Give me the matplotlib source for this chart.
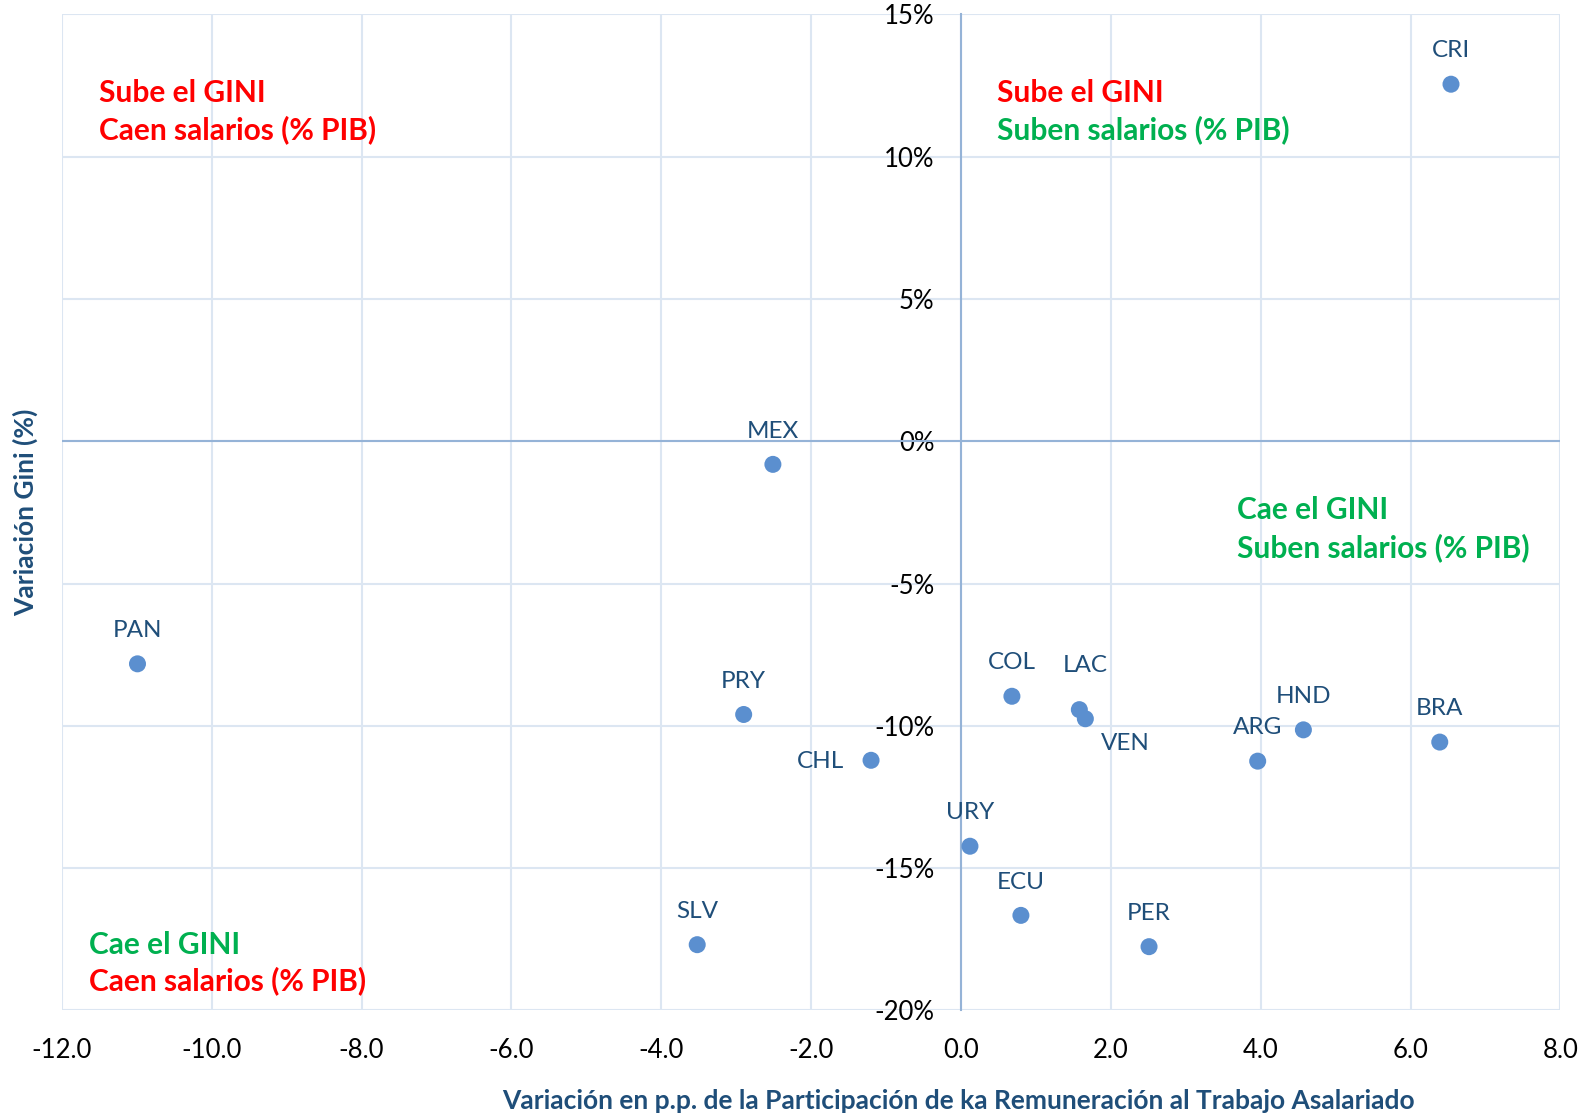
import matplotlib
matplotlib.use("Agg")
import matplotlib.pyplot as plt
from matplotlib.ticker import FuncFormatter

plt.rcParams['font.family'] = ['Lato', 'DejaVu Sans']
plt.rcParams['axes.unicode_minus'] = False

# ---- data ----
countries = ["CRI", "MEX", "PAN", "PRY", "CHL", "COL", "LAC", "VEN", "ARG",
             "HND", "BRA", "URY", "ECU", "SLV", "PER"]
x_vals = [6.54, -2.51, -10.99, -2.90, -1.20, 0.68, 1.58, 1.66, 3.96,
          4.57, 6.39, 0.12, 0.80, -3.52, 2.51]
y_vals = [12.55, -0.81, -7.82, -9.60, -11.21, -8.96, -9.43, -9.75, -11.24,
          -10.14, -10.57, -14.23, -16.66, -17.69, -17.76]
x_ticks = [-12, -10, -8, -6, -4, -2, 0, 2, 4, 6, 8]
y_ticks = [-20, -15, -10, -5, 0, 5, 10, 15]
x_title = "Variación en p.p. de la Participación de ka Remuneración al Trabajo Asalariado"
y_title = "Variación Gini (%)"

# label offsets (points)
default_off = (0, 24)
label_off = {"LAC": (4.4, 32), "VEN": (28.5, -17.5), "CHL": (-36.5, -1)}

RED = "#FF0000"
GREEN = "#00B050"
quadrants = [
    # (x, y, text, color)
    (-11.5, 12.23, "Sube el GINI", RED),
    (-11.5, 10.95, "Caen salarios (% PIB)", RED),
    (0.48, 12.23, "Sube el GINI", RED),
    (0.48, 10.95, "Suben salarios (% PIB)", GREEN),
    (3.69, -2.42, "Cae el GINI", GREEN),
    (3.69, -3.73, "Suben salarios (% PIB)", GREEN),
    (-11.64, -17.69, "Cae el GINI", GREEN),
    (-11.64, -18.97, "Caen salarios (% PIB)", RED),
]

fig = plt.figure(figsize=(15.89, 11.15), dpi=100)
ax = fig.add_axes([0.0389, 0.0938, 0.9431, 0.8932])

GRID = "#DCE6F2"
ZERO = "#95B3D7"
LABEL = "#1F4E79"
POINT = "#5B8FCF"

ax.set_xlim(x_ticks[0], x_ticks[-1])
ax.set_ylim(y_ticks[0], y_ticks[-1])
ax.set_xticks(x_ticks)
ax.set_yticks(y_ticks)
ax.grid(True, color=GRID, linewidth=1.5, zorder=0)
ax.set_axisbelow(True)

for s in ["top", "right", "bottom"]:
    ax.spines[s].set_visible(False)
ax.spines["left"].set_position(("data", 0))
ax.spines["left"].set_color(ZERO)
ax.spines["left"].set_linewidth(1.5)
ax.axhline(0, color=ZERO, linewidth=1.5, zorder=1)

ax.tick_params(axis="both", length=0, labelsize=18.5, labelcolor="black")
ax.tick_params(axis="y", pad=19)
ax.tick_params(axis="x", pad=20)
ax.xaxis.set_major_formatter(FuncFormatter(lambda v, p: f"{v:.1f}"))
ax.yaxis.set_major_formatter(FuncFormatter(lambda v, p: f"{v:.0f}%"))
for lab in ax.get_yticklabels():
    lab.set_verticalalignment("center_baseline")

ax.scatter(x_vals, y_vals, s=150, color=POINT, edgecolors="none", zorder=3)
for c, xv, yv in zip(countries, x_vals, y_vals):
    off = label_off.get(c, default_off)
    ax.annotate(c, (xv, yv), xytext=off, textcoords="offset points",
                ha="center", va="center", fontsize=17.5, color=LABEL, zorder=4)

for qx, qy, txt, col in quadrants:
    ax.text(qx, qy, txt, color=col, fontsize=21.5, fontweight="bold",
            ha="left", va="center", zorder=4)

ax.set_xlabel(x_title, fontsize=19, fontweight="bold", color=LABEL)
ax.xaxis.set_label_coords(0.598, -0.0905)
ax.xaxis.label.set_verticalalignment("center")
ax.set_ylabel(y_title, fontsize=19, fontweight="bold", color=LABEL)
ax.yaxis.set_label_coords(-0.0243, 0.50)
ax.yaxis.label.set_verticalalignment("center")

fig.savefig("out.png", dpi=100)
